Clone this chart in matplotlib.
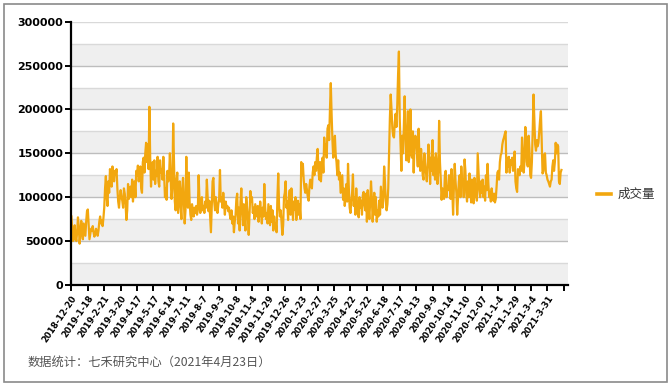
import matplotlib
matplotlib.use('Agg')
import matplotlib.pyplot as plt
from matplotlib.patches import Rectangle
from matplotlib.lines import Line2D

plt.rcParams['font.family'] = ['DejaVu Sans', 'Noto Sans CJK SC']

series_name = '成交量'
source_note = '数据统计：七禾研究中心（2021年4月23日）'

tick_dates = ['2018-12-20', '2019-1-18', '2019-2-21', '2019-3-20', '2019-4-17', '2019-5-17',
              '2019-6-14', '2019-7-11', '2019-8-7', '2019-9-3', '2019-10-8', '2019-11-4',
              '2019-11-29', '2019-12-26', '2020-1-23', '2020-2-27', '2020-3-25', '2020-4-22',
              '2020-5-22', '2020-6-18', '2020-7-17', '2020-8-13', '2020-9-9', '2020-10-14',
              '2020-11-10', '2020-12-07', '2021-1-4', '2021-1-29', '2021-3-4', '2021-3-31']

# daily trading volume (one row = 20 trading days)
volume = [
    78000, 62000, 50000, 52000, 68000, 55000, 50000, 60000, 77000, 66000, 47000, 58000, 73000, 60000, 52000, 70000, 63000, 56000, 72000, 84000,
    86000, 68000, 52000, 58000, 64000, 62000, 67000, 60000, 55000, 58000, 64000, 60000, 56000, 62000, 72000, 78000, 70000, 74000, 67000, 76000,
    88000, 110000, 124000, 100000, 90000, 118000, 105000, 132000, 120000, 112000, 135000, 128000, 118000, 130000, 126000, 132000, 110000, 95000, 88000, 100000,
    108000, 100000, 96000, 88000, 110000, 104000, 92000, 74000, 85000, 115000, 98000, 108000, 112000, 100000, 120000, 95000, 108000, 118000, 100000, 130000,
    125000, 136000, 118000, 128000, 135000, 110000, 105000, 140000, 145000, 128000, 150000, 162000, 140000, 160000, 132000, 203000, 145000, 112000, 135000, 140000,
    120000, 142000, 115000, 130000, 124000, 146000, 118000, 112000, 142000, 128000, 132000, 120000, 146000, 125000, 100000, 110000, 97000, 130000, 118000, 125000,
    150000, 120000, 98000, 110000, 184000, 140000, 95000, 85000, 120000, 128000, 82000, 100000, 118000, 90000, 75000, 110000, 122000, 95000, 70000, 85000,
    146000, 100000, 88000, 128000, 95000, 80000, 74000, 92000, 85000, 78000, 88000, 82000, 90000, 80000, 85000, 125000, 98000, 82000, 88000, 100000,
    85000, 90000, 82000, 95000, 88000, 120000, 100000, 84000, 96000, 78000, 60000, 90000, 118000, 122000, 95000, 85000, 100000, 88000, 82000, 92000,
    98000, 131000, 95000, 100000, 88000, 105000, 92000, 80000, 95000, 88000, 90000, 84000, 88000, 80000, 75000, 85000, 70000, 78000, 60000, 72000,
    80000, 98000, 104000, 70000, 88000, 62000, 95000, 110000, 85000, 68000, 92000, 78000, 62000, 100000, 88000, 76000, 57000, 80000, 107000, 95000,
    100000, 82000, 88000, 75000, 92000, 85000, 78000, 90000, 72000, 80000, 95000, 84000, 70000, 88000, 78000, 115000, 90000, 75000, 82000, 70000,
    92000, 80000, 68000, 90000, 72000, 85000, 62000, 78000, 65000, 70000, 60000, 100000, 127000, 90000, 78000, 85000, 72000, 57000, 68000, 100000,
    105000, 118000, 88000, 95000, 74000, 100000, 108000, 80000, 110000, 90000, 74000, 95000, 86000, 100000, 74000, 88000, 96000, 80000, 92000, 75000,
    140000, 125000, 138000, 120000, 110000, 105000, 115000, 108000, 100000, 96000, 112000, 120000, 118000, 110000, 128000, 135000, 125000, 140000, 130000, 145000,
    155000, 130000, 120000, 140000, 118000, 135000, 145000, 128000, 168000, 150000, 160000, 145000, 178000, 182000, 165000, 200000, 230000, 195000, 165000, 145000,
    150000, 170000, 148000, 140000, 125000, 142000, 120000, 128000, 105000, 115000, 125000, 97000, 110000, 90000, 100000, 115000, 95000, 138000, 110000, 88000,
    82000, 95000, 105000, 126000, 90000, 100000, 80000, 110000, 92000, 85000, 77000, 100000, 88000, 96000, 80000, 102000, 106000, 92000, 85000, 104000,
    72000, 108000, 88000, 75000, 95000, 118000, 100000, 72000, 90000, 105000, 80000, 100000, 72000, 85000, 78000, 96000, 80000, 112000, 100000, 88000,
    100000, 135000, 118000, 95000, 85000, 92000, 110000, 150000, 190000, 217000, 200000, 178000, 170000, 168000, 185000, 195000, 180000, 205000, 240000, 266000,
    190000, 160000, 130000, 170000, 150000, 180000, 215000, 175000, 142000, 160000, 198000, 140000, 150000, 200000, 150000, 145000, 175000, 128000, 160000, 170000,
    165000, 150000, 135000, 178000, 145000, 130000, 155000, 140000, 125000, 120000, 150000, 135000, 128000, 118000, 140000, 160000, 150000, 115000, 145000, 130000,
    165000, 125000, 145000, 120000, 150000, 138000, 115000, 130000, 187000, 140000, 120000, 97000, 110000, 100000, 98000, 125000, 130000, 100000, 112000, 108000,
    125000, 120000, 98000, 132000, 110000, 80000, 112000, 138000, 118000, 105000, 80000, 100000, 118000, 125000, 100000, 135000, 115000, 120000, 100000, 143000,
    130000, 105000, 95000, 118000, 100000, 127000, 110000, 94000, 120000, 108000, 93000, 122000, 100000, 115000, 96000, 150000, 130000, 108000, 100000, 118000,
    105000, 120000, 100000, 112000, 96000, 125000, 108000, 138000, 115000, 100000, 106000, 95000, 110000, 100000, 96000, 104000, 94000, 98000, 112000, 128000,
    130000, 120000, 140000, 148000, 150000, 160000, 165000, 168000, 172000, 175000, 128000, 145000, 135000, 146000, 128000, 142000, 137000, 145000, 130000, 140000,
    152000, 118000, 110000, 106000, 132000, 130000, 125000, 135000, 130000, 168000, 150000, 128000, 140000, 180000, 165000, 140000, 135000, 170000, 155000, 125000,
    122000, 140000, 175000, 217000, 190000, 160000, 153000, 165000, 158000, 162000, 175000, 188000, 198000, 160000, 127000, 130000, 148000, 150000, 128000, 125000,
    120000, 118000, 115000, 112000, 118000, 120000, 135000, 142000, 130000, 140000, 162000, 150000, 160000, 158000, 118000, 115000, 128000, 131000,
]

line_color = '#F2A70F'

fig = plt.figure(figsize=(6.7, 3.86), dpi=100)
fig.patch.set_facecolor('white')
fig.add_artist(Rectangle((3.5 / 670, 4 / 386), 663.5 / 670, 378 / 386, transform=fig.transFigure,
                         fill=False, edgecolor='#8a8a8a', linewidth=1.2))

L, R, T, B = 71.4 / 670, 568 / 670, 1 - 21.7 / 386, 1 - 284.9 / 386
ax = fig.add_axes([L, B, R - L, T - B])
ax.set_facecolor('white')

step = 25000
for k in range(0, 12, 2):
    ax.axhspan(k * step, (k + 1) * step, color='#efefef', lw=0, zorder=0)
for v in range(step, 300001, step):
    col = '#bdbdbd' if (v % 50000 == 0 and v < 300000) else '#d9d9d9'
    ax.axhline(v, color=col, lw=1.0, zorder=1)

x = list(range(len(volume)))
ax.plot(x, volume, color=line_color, lw=1.6, zorder=3, solid_joinstyle='round')

ax.set_xlim(0, 605)
ax.set_ylim(0, 300000)

yt = list(range(0, 300001, 50000))
ax.set_yticks(yt)
ax.set_yticklabels([str(v) for v in yt], fontsize=8, fontweight='bold')

xt = list(range(0, 601, 20))
ax.set_xticks(xt)
ax.set_xticklabels(tick_dates + [''], fontsize=6.1, fontweight='bold', rotation=56,
                   ha='right', va='top', rotation_mode='anchor')

for s in ['top', 'right']:
    ax.spines[s].set_visible(False)
for s in ['left', 'bottom']:
    ax.spines[s].set_color('black')
    ax.spines[s].set_linewidth(1.6)
    ax.spines[s].set_zorder(4)
ax.tick_params(axis='y', length=4.5, width=1.4, pad=1.5, colors='black')
ax.tick_params(axis='x', length=4, width=1.4, pad=2.5, colors='black')

fig.add_artist(Line2D([597 / 670, 611 / 670], [1 - 194 / 386, 1 - 194 / 386],
                      transform=fig.transFigure, color=line_color, lw=2.6))
fig.text(618 / 670, 1 - 194 / 386, series_name, fontsize=9, color='#333333',
         va='center', ha='left', family=['Noto Sans CJK SC', 'DejaVu Sans'])

fig.text(28 / 670, 1 - 362 / 386, source_note, fontsize=8.8, color='#555555',
         va='center', ha='left', family=['Noto Sans CJK SC', 'DejaVu Sans'])

fig.savefig('out.png', dpi=100, facecolor='white')
